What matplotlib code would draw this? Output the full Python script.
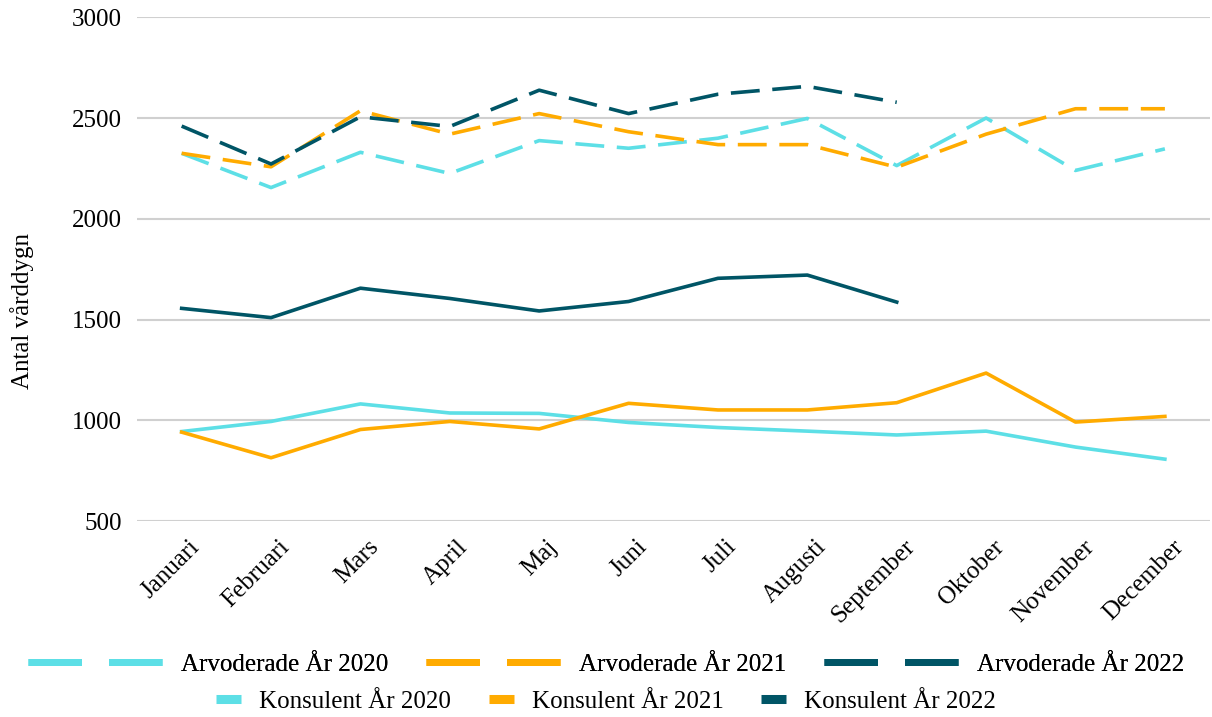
import matplotlib
matplotlib.use("Agg")
import matplotlib.pyplot as plt
import matplotlib.transforms as mtransforms
from matplotlib.lines import Line2D

plt.rcParams['font.family'] = ['Liberation Serif', 'DejaVu Serif']

manader = ["Januari", "Februari", "Mars", "April", "Maj", "Juni", "Juli",
           "Augusti", "September", "Oktober", "November", "December"]

# Arvoderade (streckade linjer)
arv_2020 = [2325, 2155, 2330, 2225, 2388, 2350, 2400, 2498, 2264, 2500, 2240, 2347]
arv_2021 = [2325, 2258, 2536, 2420, 2522, 2432, 2368, 2368, 2256, 2420, 2546, 2546]
arv_2022 = [2460, 2272, 2506, 2458, 2638, 2522, 2618, 2657, 2578]

# Konsulent (heldragna linjer)
kons_2020 = [945, 995, 1082, 1037, 1035, 990, 965, 947, 928, 947, 868, 808]
kons_2021 = [942, 815, 955, 995, 958, 1085, 1052, 1052, 1088, 1235, 992, 1020]
kons_2022 = [1556, 1510, 1656, 1605, 1543, 1590, 1705, 1721, 1587]

c2020 = "#5ddfe6"
c2021 = "#ffab00"
c2022 = "#005566"
dash = (0, (8, 3.5))
lw = 2.6
fs = 18

fig = plt.figure(figsize=(12.12, 7.17), dpi=100)
ax = fig.add_axes([0.113, 0.273, 0.885, 0.703])

x_all = list(range(len(manader)))
ax.plot(x_all, arv_2020, color=c2020, lw=lw, ls=dash)
ax.plot(x_all, arv_2021, color=c2021, lw=lw, ls=dash)
ax.plot(x_all[:len(arv_2022)], arv_2022, color=c2022, lw=lw, ls=dash)
ax.plot(x_all, kons_2020, color=c2020, lw=lw)
ax.plot(x_all, kons_2021, color=c2021, lw=lw)
ax.plot(x_all[:len(kons_2022)], kons_2022, color=c2022, lw=lw)

ax.set_xlim(-0.5, 11.5)
ax.set_ylim(500, 3000)
ax.set_yticks([500, 1000, 1500, 2000, 2500, 3000])
ax.set_xticks(x_all)
ax.tick_params(axis="both", length=0, labelsize=fs, colors="black")
ax.tick_params(axis="y", pad=11)
ax.tick_params(axis="x", pad=16)
ax.set_xticklabels(manader, rotation=45, ha="right", va="center",
                   rotation_mode="anchor")
offset = mtransforms.ScaledTranslation(0.15, 0, fig.dpi_scale_trans)
for lab in ax.get_xticklabels():
    lab.set_transform(lab.get_transform() + offset)
ax.grid(axis="y", color="#d0d0d0", lw=1.5)
ax.set_axisbelow(True)
for s in ax.spines.values():
    s.set_visible(False)
ax.set_ylabel("Antal vårddygn", fontsize=fs)
ax.yaxis.set_label_coords(-0.096, 0.417)

h1 = [Line2D([], [], color=c, lw=5, ls=(0, (7.7, 3.9))) for c in (c2020, c2021, c2022)]
l1 = ["Arvoderade År 2020", "Arvoderade År 2021", "Arvoderade År 2022"]
leg1 = fig.legend(h1, l1, ncol=3, loc="center", bbox_to_anchor=(0.5, 0.073),
                  frameon=False, fontsize=fs, handlelength=5.4,
                  columnspacing=1.5, handletextpad=0.72)
fig.add_artist(leg1)

h2 = [Line2D([], [], color=c, lw=6.5, solid_capstyle="butt") for c in (c2020, c2021, c2022)]
l2 = ["Konsulent År 2020", "Konsulent År 2021", "Konsulent År 2022"]
fig.legend(h2, l2, ncol=3, loc="center", bbox_to_anchor=(0.5, 0.021),
           frameon=False, fontsize=fs, handlelength=1.0,
           columnspacing=1.5, handletextpad=0.72)

fig.savefig("out.png", dpi=100)
